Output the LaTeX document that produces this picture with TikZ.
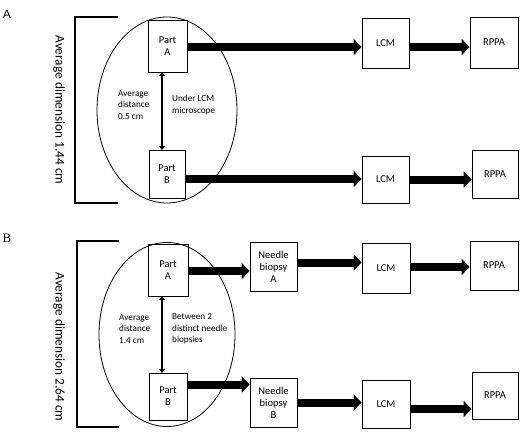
\documentclass[tikz,border=0pt]{standalone}
\usepackage{fontspec}
\setmainfont{Carlito}
\newfontfamily\serifB{Liberation Serif}
\newfontfamily\sansA{Liberation Sans}
\usetikzlibrary{arrows.meta}
\tikzset{
  box/.style={draw, line width=0.8pt, inner sep=0pt, align=center, font=\fontsize{10.5}{12}\selectfont},
  fat/.style={line width=8pt, -{Triangle[length=8pt,width=16pt]}},
  dbl/.style={line width=1.8pt, {Triangle[length=4pt,width=6pt]}-{Triangle[length=4pt,width=6pt]}},
  note/.style={align=left, inner sep=0pt, font=\fontsize{9.2}{11.7}\selectfont},
  dimtxt/.style={rotate=-90, inner sep=0pt, font=\fontsize{13.3}{15}\selectfont},
  brk/.style={line width=1.2pt},
  oval/.style={draw, ellipse, line width=0.8pt}
}
\begin{document}
\begin{tikzpicture}[x=1pt,y=-1pt]
\useasboundingbox (0,0) rectangle (520,432);
% ---------- Panel A ----------
\node[inner sep=0pt, font=\sansA\fontsize{12}{14}\selectfont] (labA) at (7,14) {A};
\coordinate (a1) at (118,17);
\coordinate (a2) at (75,17);
\coordinate (a3) at (75,203);
\coordinate (a4) at (118,203);
\draw[brk] (a1) -- (a2) -- (a3) -- (a4);
\node[dimtxt] (dimA) at (59,110) {Average dimension 1.44 cm};
\draw[line width=0.8pt] (167,110) ellipse [x radius=70, y radius=93];
\node[box, minimum width=39pt, minimum height=52pt] (pa) at (167.5,46) {Part\\A};
\node[box, minimum width=36pt, minimum height=48pt] (pb) at (167,174) {Part\\B};
\draw[dbl] (162,72) -- (162,150);
\node[note, anchor=west] (ndA) at (118,105) {Average\\distance\\0.5 cm};
\node[note, anchor=west] (nlA) at (172,105) {Under LCM\\microscope};
\node[box, minimum width=47pt, minimum height=50pt] (lcm1) at (385.5,43) {LCM};
\node[box, minimum width=48pt, minimum height=51pt] (rppa1) at (494,42.5) {RPPA};
\node[box, minimum width=47pt, minimum height=47pt] (lcm2) at (385.5,179.5) {LCM};
\node[box, minimum width=46pt, minimum height=48pt] (rppa2) at (495,174) {RPPA};
\draw[fat] ([yshift=-1pt]pa.east) -- ([yshift=-1pt]pa.east -| lcm1.west);
\draw[fat] ([yshift=-4pt]lcm1.east) -- ([yshift=-4pt]lcm1.east -| rppa1.west);
\draw[fat] ([yshift=-5pt]pb.east) -- ([yshift=-5pt]pb.east -| lcm2.west);
\draw[fat] ([yshift=0pt]lcm2.east) -- ([yshift=0pt]lcm2.east -| rppa2.west);
% ---------- Panel B ----------
\node[inner sep=0pt, font=\serifB\fontsize{13}{15}\selectfont] (labB) at (7,238) {B};
\coordinate (b1) at (119,241);
\coordinate (b2) at (77,241);
\coordinate (b3) at (77,427);
\coordinate (b4) at (119,427);
\draw[brk] (b1) -- (b2) -- (b3) -- (b4);
\node[dimtxt] (dimB) at (59,347) {Average dimension 2.64 cm};
\draw[line width=0.8pt] (167,334.5) ellipse [x radius=68, y radius=92];
\node[box, minimum width=40pt, minimum height=52pt] (pa2) at (168,270) {Part\\A};
\node[box, minimum width=38pt, minimum height=47pt] (pb2) at (168,396.5) {Part\\B};
\draw[dbl] (162,296) -- (162,373);
\node[note, anchor=west] (ndB) at (119,329) {Average\\distance\\1.4 cm};
\node[note, anchor=west] (nlB) at (172,329) {Between 2\\distinct needle\\biopsies};
\node[box, minimum width=47pt, minimum height=49pt] (nba) at (273.5,266.5) {Needle\\biopsy\\A};
\node[box, minimum width=47pt, minimum height=49pt] (nbb) at (273.5,402.5) {Needle\\biopsy\\B};
\node[box, minimum width=48pt, minimum height=50pt] (lcm3) at (386,268) {LCM};
\node[box, minimum width=48pt, minimum height=49pt] (rppa3) at (494,265.5) {RPPA};
\node[box, minimum width=48pt, minimum height=48pt] (lcm4) at (386,404) {LCM};
\node[box, minimum width=46pt, minimum height=47pt] (rppa4) at (495,395.5) {RPPA};
\draw[fat] ([yshift=-1pt]pa2.east) -- ([yshift=-1pt]pa2.east -| nba.west);
\draw[fat] ([yshift=4pt]nba.east) -- ([yshift=4pt]nba.east -| lcm3.west);
\draw[fat] ([yshift=1pt]lcm3.east) -- ([yshift=1pt]lcm3.east -| rppa3.west);
\draw[fat] ([yshift=12pt]pb2.east) -- ([yshift=12pt]pb2.east -| nbb.west);
\draw[fat] ([yshift=0pt]nbb.east) -- ([yshift=0pt]nbb.east -| lcm4.west);
\draw[fat] ([yshift=-5pt]lcm4.east) -- ([yshift=-5pt]lcm4.east -| rppa4.west);
\end{tikzpicture}
\end{document}
